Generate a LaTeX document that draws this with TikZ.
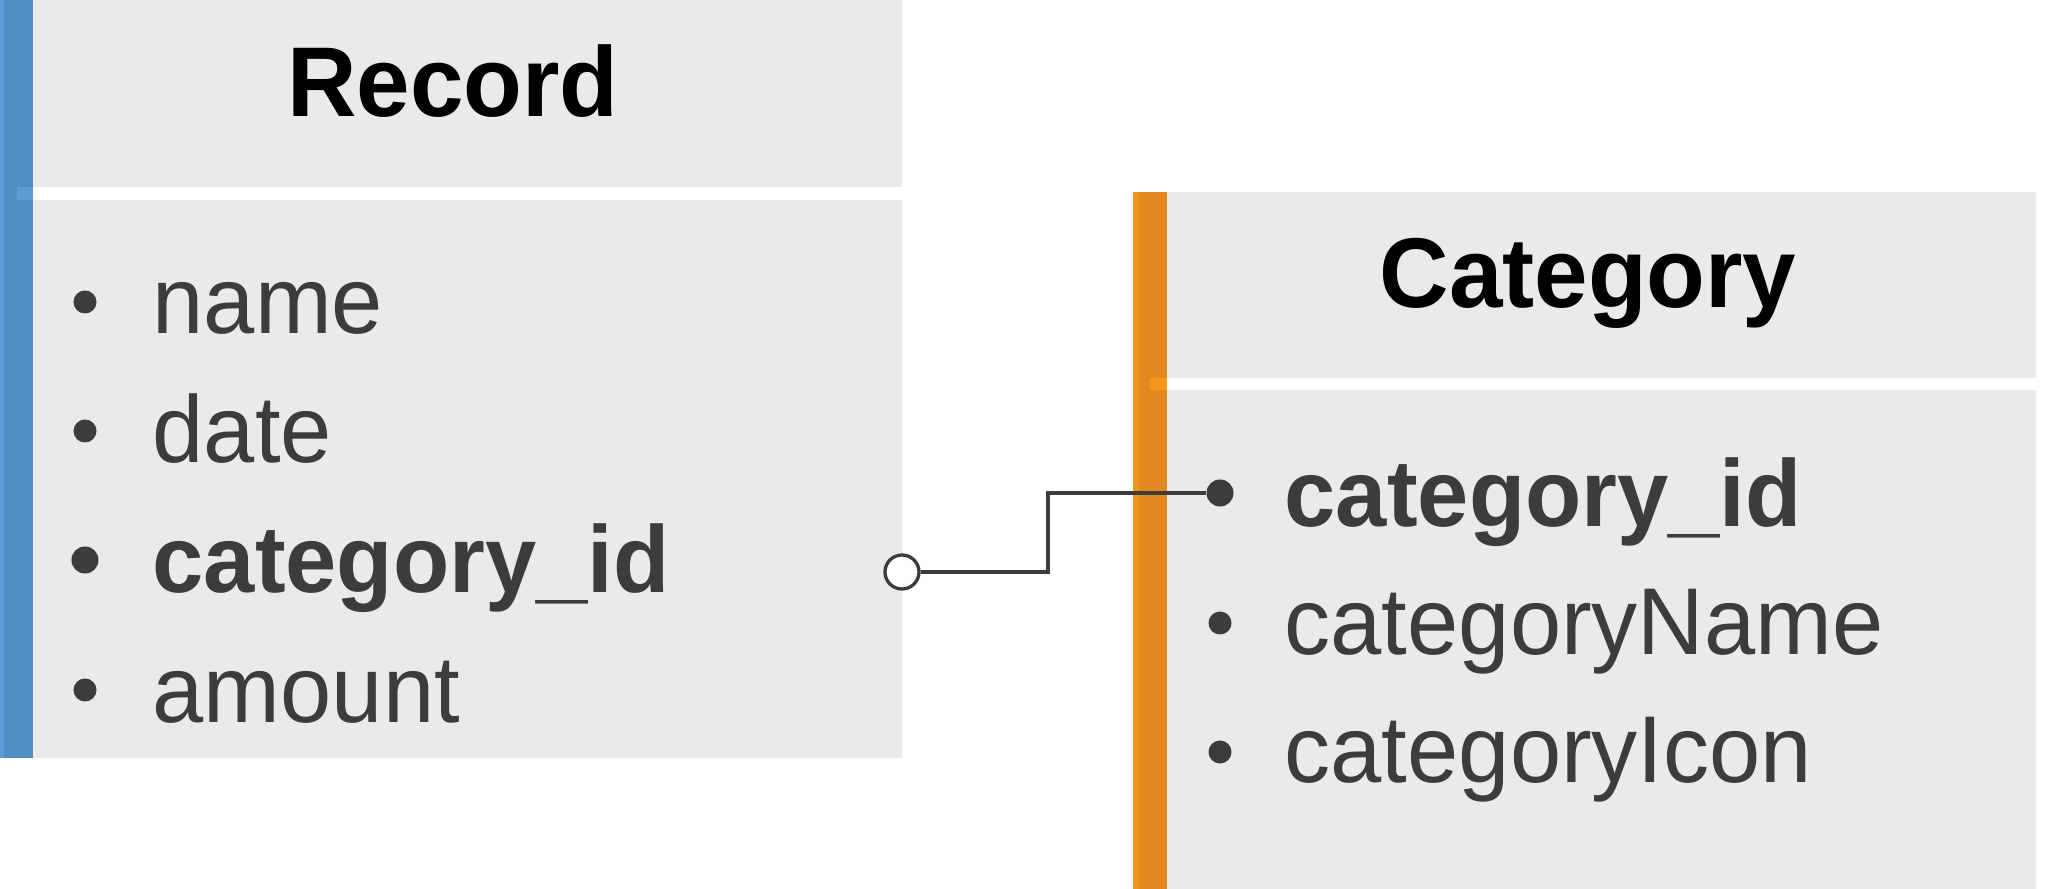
\documentclass[tikz,border=0pt]{standalone}
\usepackage{fontspec}
\setmainfont{Liberation Sans}[FakeStretch=0.97]
\definecolor{boxgray}{HTML}{EAEAEA}
\definecolor{itemgray}{HTML}{3C3C3C}
\definecolor{recblue}{HTML}{4F8FC6}
\definecolor{recbluelight}{HTML}{5B9BD8}
\definecolor{catorange}{HTML}{E3881E}
\definecolor{catorangelight}{HTML}{F7941D}
\tikzset{
  title/.style={anchor=base, inner sep=0, text=black, font=\fontsize{28.2}{33}\selectfont\bfseries},
  item/.style={anchor=base west, inner sep=0, text=itemgray, font=\fontsize{27}{32}\selectfont},
  keyitem/.style={item, font=\fontsize{27}{32}\selectfont\bfseries},
  dot/.style={circle, fill=itemgray, inner sep=0, minimum size=0.23cm},
  bigdot/.style={circle, fill=itemgray, inner sep=0, minimum size=0.27cm},
  opencirc/.style={circle, draw=itemgray, fill=white, inner sep=0, line width=0.033cm, minimum size=0.34cm},
  conn/.style={draw=itemgray, line width=0.033cm}
}
\begin{document}
\begin{tikzpicture}[x=0.01cm, y=-0.01cm]
\useasboundingbox (0,0) rectangle (2049,889);
% Record table
\fill[boxgray] (33,0) rectangle (902,758);
\fill[recblue] (0,0) rectangle (33,758);
\fill[recbluelight] (0,0) rectangle (4,758);
\fill[recbluelight] (17,187) rectangle (33,200);
\fill[white] (33,187) rectangle (902,200);
% Category table
\fill[boxgray] (1167,192) rectangle (2036,889);
\fill[catorange] (1133,192) rectangle (1167,889);
\fill[catorangelight] (1133,192) rectangle (1139,889);
\fill[catorangelight] (1150,378) rectangle (1167,390);
\fill[white] (1167,378) rectangle (2036,390);
% titles
\node[title] (rectitle) at (453,117) {Record};
\node[title] (cattitle) at (1588,308) {Category};
% Record items
\node[dot] (bname) at (85,302) {};
\node[item] (rname) at (152,334) {name};
\node[dot] (bdate) at (85,431) {};
\node[item] (rdate) at (152,463) {date};
\node[bigdot] (brcid) at (85,560) {};
\node[keyitem] (rcid) at (152,593) {category\_id};
\node[dot] (bamount) at (85,690) {};
\node[item] (ramount) at (152,723) {amount};
% Category items
\node[bigdot] (bccid) at (1220,493) {};
\node[keyitem] (ccid) at (1284,527) {category\_id};
\node[dot] (bcname) at (1220,623) {};
\node[item] (cname) at (1284,655) {categoryName};
\node[dot] (bcicon) at (1220,752) {};
\node[item] (cicon) at (1284,783) {categoryIcon};
% connector
\node[opencirc] (fk) at (902,572) {};
\coordinate (elbow) at (1048,530);
\draw[conn] (fk.east) -- (elbow |- fk) -- (elbow |- bccid) -- (bccid);
\end{tikzpicture}
\end{document}
